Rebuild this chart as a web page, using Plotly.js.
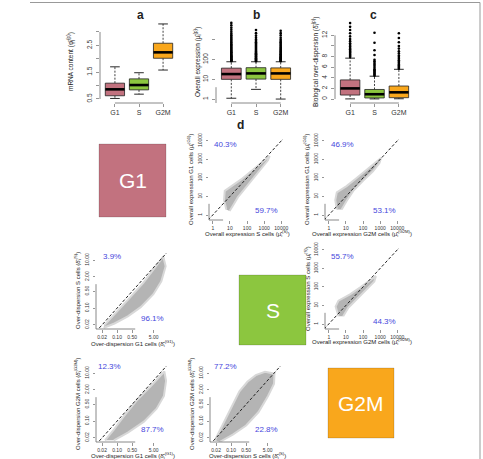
<!DOCTYPE html>
<html>
<head>
<meta charset="utf-8">
<script src="https://cdn.plot.ly/plotly-3.0.1.min.js"></script>
<style>
html,body{margin:0;padding:0;background:#fff}
#chart{width:483px;height:459px}
</style>
</head>
<body>
<div id="chart"></div>
<script>
// ---------- data ----------
const phases = ['G1', 'S', 'G2M'];
const phaseColors = ['#C2727F', '#8CC63F', '#F9A71C'];

// (a) mRNA content per phase: whisker ends, quartiles, medians
const mrnaLower = [0.52, 0.68, 1.58];
const mrnaQ1 = [0.62, 0.84, 2.02];
const mrnaMedian = [0.86, 1.02, 2.24];
const mrnaQ3 = [1.09, 1.25, 2.58];
const mrnaUpper = [1.70, 1.48, 3.30];

// (b) overall expression per phase
const exprLower = [1.1, 3.1, 1.0];
const exprQ1 = [10, 10.3, 10];
const exprMedian = [18.5, 20, 20];
const exprQ3 = [37, 39, 38];
const exprUpper = [78, 78, 78];
const exprOutG1 = [84, 88, 93, 99, 105, 112, 120, 129, 139, 150, 163, 178, 195, 214, 236, 262, 290, 325, 365, 410, 465, 530, 600, 690, 790, 910, 1060, 1250, 1450, 1750, 2100, 2600, 3300, 4200, 5600, 7300];
const exprOutS = [84, 89, 95, 101, 108, 116, 125, 135, 146, 159, 174, 190, 208, 230, 255, 283, 315, 352, 395, 445, 505, 575, 660, 760, 890, 1050, 1300, 1650, 2200, 3200];
const exprOutG2M = [84, 89, 95, 101, 108, 116, 125, 134, 145, 158, 172, 188, 206, 227, 250, 278, 310, 347, 390, 440, 500, 570, 655, 755, 880, 1050, 1300, 1700, 2200, 2900];

// (c) biological over-dispersion per phase
const dispLower = [0.02, 0.02, 0.05];
const dispQ1 = [0.75, 0.2, 0.25];
const dispMedian = [2.0, 0.9, 1.26];
const dispQ3 = [3.6, 1.8, 2.45];
const dispUpper = [7.7, 4.3, 5.6];
const dispOutG1 = [7.9, 8.1, 8.3, 8.5, 8.7, 8.9, 9.1, 9.4, 9.6, 9.9, 10.2, 10.5, 10.9, 11.3, 11.8, 12.4, 13.0, 13.6, 14.3];
const dispOutS = [4.4, 4.6, 4.8, 5.0, 5.2, 5.4, 5.6, 5.9, 6.2, 6.5, 6.8, 7.1, 7.4, 8.3, 9.2, 10.6, 12.5];
const dispOutG2M = [5.7, 5.9, 6.1, 6.3, 6.5, 6.8, 7.0, 7.3, 7.6, 7.9, 8.2, 8.6, 9.0, 9.5, 10.0, 10.7, 11.5, 12.4];

// (d) outlines of the gene clouds, log10 units (x, y)
const cloudG1vsS_x = [0.79, 0.66, 0.70, 1.08, 1.66, 2.24, 2.72, 3.15, 3.32, 3.22, 2.78, 2.30, 1.85, 1.46, 1.17, 0.98];
const cloudG1vsS_y = [0.30, 0.81, 1.30, 1.55, 1.92, 2.36, 2.72, 3.08, 3.18, 2.95, 2.45, 1.92, 1.40, 0.95, 0.50, 0.22];
const cloudG1vsG2M_x = [0.47, 0.38, 0.47, 1.04, 1.63, 2.22, 2.78, 3.05, 2.96, 2.58, 2.00, 1.43, 1.04, 0.75];
const cloudG1vsG2M_y = [0.30, 0.81, 1.22, 1.56, 2.00, 2.45, 2.90, 3.08, 2.80, 2.36, 1.84, 1.30, 0.76, 0.30];
const cloudSvsG2M_x = [0.57, 0.40, 0.57, 1.24, 1.82, 2.40, 2.75, 2.66, 2.20, 1.63, 1.14, 0.84];
const cloudSvsG2M_y = [0.42, 0.94, 1.26, 1.60, 1.96, 2.32, 2.58, 2.30, 1.86, 1.33, 0.88, 0.42];
const cloudSvsG1disp_x = [-1.60, -1.02, -0.40, 0.22, 0.77, 1.15, 1.26, 1.06, 0.69, 0.10, -0.50, -1.12, -1.62];
const cloudSvsG1disp_y = [-1.72, -1.18, -0.56, 0.05, 0.68, 1.15, 0.75, 0.12, -0.42, -0.96, -1.34, -1.64, -1.82];
const cloudG2MvsG1disp_x = [-1.56, -1.17, -0.71, -0.09, 0.53, 1.00, 1.20, 1.28, 1.18, 0.84, 0.25, -0.50, -1.15];
const cloudG2MvsG1disp_y = [-1.80, -1.38, -0.82, -0.14, 0.42, 0.88, 1.07, 0.68, 0.05, -0.48, -1.02, -1.48, -1.80];
const cloudG2MvsSdisp_x = [-1.75, -1.52, -1.22, -0.92, -0.61, -0.24, 0.15, 0.58, 1.02, 1.00, 0.72, 0.28, -0.30, -0.92, -1.52];
const cloudG2MvsSdisp_y = [-1.80, -1.38, -0.82, -0.28, 0.24, 0.64, 0.92, 1.06, 0.98, 0.56, 0.05, -0.62, -1.18, -1.56, -1.86];

// share of genes above / below the diagonal
const pctG1vsS = ['40.3%', '59.7%'];
const pctG1vsG2M = ['46.9%', '53.1%'];
const pctSvsG2M = ['55.7%', '44.3%'];
const pctSvsG1disp = ['3.9%', '96.1%'];
const pctG2MvsG1disp = ['12.3%', '87.7%'];
const pctG2MvsSdisp = ['77.2%', '22.8%'];

// tick labels
const exprTicks = [1, 10, 100, 1000, 10000];
const exprTickText = ['1', '10', '100', '1000', '10000'];
const dispXTicks = [0.02, 0.10, 0.50, 5.00];
const dispXTickText = ['0.02', '0.10', '0.50', '5.00'];
const dispYTicks = [0.02, 0.10, 0.50, 2.00, 10.00];
const dispYTickText = ['0.02', '0.10', '0.50', '2.00', '10.00'];

// ---------- layout helpers ----------
const W = 483, H = 459;
const FONT = '"Liberation Sans", Arial, sans-serif';
const AXIS_COL = '#6a6a6a';
const BLUE = '#4646DC';
const px = p => p / W;
const py = p => 1 - p / H;

const traces = [];
const shapes = [];
const annotations = [];
const layout = {
  width: W, height: H,
  margin: {l: 0, r: 0, t: 0, b: 0},
  paper_bgcolor: '#fff', plot_bgcolor: 'rgba(0,0,0,0)',
  showlegend: false,
  font: {family: FONT, color: '#222'}
};

function axis(extra) {
  return Object.assign({
    showgrid: false, zeroline: false, showline: false,
    ticks: 'outside', ticklen: 3, tickwidth: 0.7, tickcolor: AXIS_COL,
    tickfont: {family: FONT, size: 7, color: '#333'},
    tickmode: 'array', fixedrange: true
  }, extra);
}

// R style axis line spanning first to last tick
function axisLine(n, dir, a, b, isLog) {
  const t = v => isLog ? Math.log10(v) : v;
  const xs = n === 1 ? 'x' : 'x' + n, ys = n === 1 ? 'y' : 'y' + n;
  if (dir === 'x') {
    shapes.push({type: 'line', xref: xs, yref: ys + ' domain', x0: t(a), x1: t(b), y0: 0, y1: 0,
      line: {color: AXIS_COL, width: 0.8}});
  } else {
    shapes.push({type: 'line', xref: xs + ' domain', yref: ys, x0: 0, x1: 0, y0: t(a), y1: t(b),
      line: {color: AXIS_COL, width: 0.8}});
  }
}

function label(text, x, y, size, opts) {
  annotations.push(Object.assign({
    text: text, xref: 'paper', yref: 'paper', x: px(x), y: py(y),
    xanchor: 'center', yanchor: 'middle', showarrow: false,
    font: {family: FONT, size: size, color: '#222'}
  }, opts || {}));
}

// ---------- box plot panels (a, b, c) ----------
function boxPanel(n, box, yAxisExtra, lower, q1, med, q3, upper, outliers) {
  const xs = n === 1 ? 'x' : 'x' + n, ys = n === 1 ? 'y' : 'y' + n;
  const key = n === 1 ? '' : n;
  layout['xaxis' + key] = axis({
    domain: [px(box.L), px(box.R)], range: [0.38, 3.62], anchor: ys,
    tickvals: [1, 2, 3], ticktext: phases
  });
  layout['yaxis' + key] = axis(Object.assign({
    domain: [py(box.B), py(box.T)], anchor: xs, tickangle: -90, ticklabelstandoff: 1,
    tickfont: {family: FONT, size: 6.5, color: '#333'}
  }, yAxisExtra));
  const hw = 0.4;
  phases.forEach((p, i) => {
    const c = i + 1;
    // whiskers (dashed) and staples
    traces.push({type: 'scatter', mode: 'lines', xaxis: xs, yaxis: ys, hoverinfo: 'skip',
      x: [c, c, null, c, c], y: [q3[i], upper[i], null, q1[i], lower[i]],
      line: {color: '#111', width: 0.8, dash: '2px,1.5px'}});
    traces.push({type: 'scatter', mode: 'lines', xaxis: xs, yaxis: ys, hoverinfo: 'skip',
      x: [c - hw / 2, c + hw / 2, null, c - hw / 2, c + hw / 2], y: [upper[i], upper[i], null, lower[i], lower[i]],
      line: {color: '#111', width: 0.9}});
    // box
    traces.push({type: 'scatter', mode: 'lines', xaxis: xs, yaxis: ys, hoverinfo: 'skip',
      x: [c - hw, c + hw, c + hw, c - hw, c - hw], y: [q1[i], q1[i], q3[i], q3[i], q1[i]],
      fill: 'toself', fillcolor: phaseColors[i], line: {color: '#222', width: 0.8}});
    // median
    traces.push({type: 'scatter', mode: 'lines', xaxis: xs, yaxis: ys, hoverinfo: 'skip',
      x: [c - hw, c + hw], y: [med[i], med[i]], line: {color: '#000', width: 2.6}});
    // outliers
    if (outliers && outliers[i] && outliers[i].length) {
      traces.push({type: 'scatter', mode: 'markers', xaxis: xs, yaxis: ys, hoverinfo: 'skip',
        x: outliers[i].map(() => c), y: outliers[i],
        marker: {symbol: 'circle', size: 2.6, color: '#000'}});
    }
  });
  axisLine(n, 'x', 1, 3, false);
}

const boxA = {L: 100, R: 178, T: 21, B: 103};
const boxB = {L: 216, R: 296, T: 21, B: 103};
const boxC = {L: 335, R: 414, T: 21, B: 103};

boxPanel(1, boxA, {range: [0.35, 3.41], tickvals: [0.5, 1, 1.5, 2, 2.5, 3], ticktext: ['0.5', '', '1.5', '', '2.5', '']},
  mrnaLower, mrnaQ1, mrnaMedian, mrnaQ3, mrnaUpper, null);
axisLine(1, 'y', 0.5, 3, false);

boxPanel(2, boxB, {type: 'log', range: [-0.2, 3.96], tickvals: [1, 10, 100, 1000, 10000], ticktext: ['1', '10', '100', '', '10000']},
  exprLower, exprQ1, exprMedian, exprQ3, exprUpper, [exprOutG1, exprOutS, exprOutG2M]);
axisLine(2, 'y', 1, 10000, true);

boxPanel(3, boxC, {range: [-0.75, 14.7], tickvals: [0, 2, 4, 6, 8, 10, 12], ticktext: ['0', '2', '4', '6', '8', '', '12']},
  dispLower, dispQ1, dispMedian, dispQ3, dispUpper, [dispOutG1, dispOutS, dispOutG2M]);
axisLine(3, 'y', 0, 12, false);

label('<b>a</b>', 140, 15, 12);
label('<b>b</b>', 256, 15, 12);
label('<b>c</b>', 373, 15, 12);
label('mRNA content (φ̂<sub>j</sub><sup>(p)</sup>)', 70, 62, 6.5, {textangle: -90});
label('Overall expression (μ̂<sub>i</sub><sup>(p)</sup>)', 197, 62, 6.5, {textangle: -90});
label('Biological over-dispersion (δ̂<sub>i</sub><sup>(p)</sup>)', 315, 62, 6.5, {textangle: -90});

// ---------- pairwise scatter panels (d) ----------
const EXPR_XR = [-0.22, 4.1], EXPR_YR = [-0.27, 4.1];
const DISP_XR = [-1.98, 1.37], DISP_YR = [-1.87, 1.30];

function pairPanel(n, box, kind, cx, cy, pct, pctPos) {
  const xs = 'x' + n, ys = 'y' + n;
  const expr = kind === 'expr';
  const xr = expr ? EXPR_XR : DISP_XR, yr = expr ? EXPR_YR : DISP_YR;
  layout['xaxis' + n] = axis({
    type: 'log', domain: [px(box.L), px(box.R)], range: xr, anchor: ys,
    tickvals: expr ? exprTicks : dispXTicks, ticktext: expr ? exprTickText : dispXTickText,
    tickfont: {family: FONT, size: 5, color: '#333'}, ticklen: 2.5
  });
  layout['yaxis' + n] = axis({
    type: 'log', domain: [py(box.B), py(box.T)], range: yr, anchor: xs,
    tickvals: expr ? exprTicks : dispYTicks, ticktext: expr ? exprTickText : dispYTickText,
    tickfont: {family: FONT, size: 5, color: '#333'}, ticklen: 2.5, tickangle: -90, ticklabelstandoff: 2
  });
  // gene cloud: soft halo around the dense body
  traces.push({type: 'scatter', mode: 'lines', xaxis: xs, yaxis: ys, hoverinfo: 'skip',
    x: cx.map(v => Math.pow(10, v)), y: cy.map(v => Math.pow(10, v)),
    fill: 'toself', fillcolor: '#b4b4b4', line: {color: '#d8d8d8', width: 2}});
  // identity line
  const lo = Math.pow(10, Math.min(xr[0], yr[0])), hi = Math.pow(10, Math.max(xr[1], yr[1]));
  traces.push({type: 'scatter', mode: 'lines', xaxis: xs, yaxis: ys, hoverinfo: 'skip',
    x: [lo, hi], y: [lo, hi], line: {color: '#222', width: 1, dash: '3px,2px'}});
  // axis lines
  const xt = expr ? exprTicks : dispXTicks, yt = expr ? exprTicks : dispYTicks;
  axisLine(n, 'x', xt[0], xt[xt.length - 1], true);
  axisLine(n, 'y', yt[0], yt[yt.length - 1], true);
  // percentages above / below the diagonal
  pct.forEach((t, i) => {
    annotations.push({text: t, xref: xs + ' domain', yref: ys + ' domain',
      x: pctPos[i][0], y: pctPos[i][1], xanchor: 'center', yanchor: 'middle', showarrow: false,
      font: {family: FONT, size: 8, color: BLUE}});
  });
}

const pG1vsS = {L: 209, R: 283, T: 139, B: 220};
const pG1vsG2M = {L: 325, R: 399, T: 139, B: 220};
const pSvsG2M = {L: 325, R: 399, T: 248, B: 329};
const pSvsG1 = {L: 96, R: 168, T: 253, B: 329};
const pG2MvsG1 = {L: 96, R: 168, T: 366, B: 442};
const pG2MvsS = {L: 210, R: 282, T: 366, B: 442};

pairPanel(4, pG1vsS, 'expr', cloudG1vsS_x, cloudG1vsS_y, pctG1vsS, [[0.22, 0.93], [0.78, 0.12]]);
pairPanel(5, pG1vsG2M, 'expr', cloudG1vsG2M_x, cloudG1vsG2M_y, pctG1vsG2M, [[0.23, 0.93], [0.81, 0.12]]);
pairPanel(6, pSvsG2M, 'expr', cloudSvsG2M_x, cloudSvsG2M_y, pctSvsG2M, [[0.23, 0.90], [0.81, 0.09]]);
pairPanel(7, pSvsG1, 'disp', cloudSvsG1disp_x, cloudSvsG1disp_y, pctSvsG1disp, [[0.22, 0.96], [0.79, 0.14]]);
pairPanel(8, pG2MvsG1, 'disp', cloudG2MvsG1disp_x, cloudG2MvsG1disp_y, pctG2MvsG1disp, [[0.19, 0.99], [0.79, 0.17]]);
pairPanel(9, pG2MvsS, 'disp', cloudG2MvsSdisp_x, cloudG2MvsSdisp_y, pctG2MvsSdisp, [[0.21, 0.99], [0.79, 0.17]]);

label('<b>d</b>', 240, 125, 12);
// axis titles of the pairwise panels
const T = 6;
label('Overall expression S cells (μ̂<sub>i</sub><sup>(S)</sup>)', 247, 233, T);
label('Overall expression G1 cells (μ̂<sub>i</sub><sup>(G1)</sup>)', 191, 180, T, {textangle: -90});
label('Overall expression G2M cells (μ̂<sub>i</sub><sup>(G2M)</sup>)', 362, 233, T);
label('Overall expression G1 cells (μ̂<sub>i</sub><sup>(G1)</sup>)', 307, 180, T, {textangle: -90});
label('Overall expression G2M cells (μ̂<sub>i</sub><sup>(G2M)</sup>)', 362, 341, T);
label('Overall expression S cells (μ̂<sub>i</sub><sup>(S)</sup>)', 307, 289, T, {textangle: -90});
label('Over-dispersion G1 cells (δ̂<sub>i</sub><sup>(G1)</sup>)', 133, 343, T);
label('Over-dispersion S cells (δ̂<sub>i</sub><sup>(S)</sup>)', 77, 291, T, {textangle: -90});
label('Over-dispersion G1 cells (δ̂<sub>i</sub><sup>(G1)</sup>)', 133, 455, T);
label('Over-dispersion G2M cells (δ̂<sub>i</sub><sup>(G2M)</sup>)', 77, 404, T, {textangle: -90});
label('Over-dispersion S cells (δ̂<sub>i</sub><sup>(S)</sup>)', 247, 455, T);
label('Over-dispersion G2M cells (δ̂<sub>i</sub><sup>(G2M)</sup>)', 191, 404, T, {textangle: -90});

// ---------- phase tiles on the diagonal ----------
const tiles = [
  {L: 99, T: 144, R: 166, B: 217},
  {L: 239, T: 275, R: 306, B: 345},
  {L: 328, T: 368, R: 394, B: 438}
];
tiles.forEach((t, i) => {
  shapes.push({type: 'rect', xref: 'paper', yref: 'paper', x0: px(t.L), x1: px(t.R), y0: py(t.B), y1: py(t.T),
    fillcolor: phaseColors[i], line: {width: 0.6, color: 'rgba(0,0,0,0.25)'}, layer: 'below'});
  label(phases[i], (t.L + t.R) / 2, (t.T + t.B) / 2, 21, {font: {family: FONT, size: 21, color: '#fff'}});
});

// frame of the figure
shapes.push({type: 'line', xref: 'paper', yref: 'paper', x0: px(30), x1: px(480), y0: py(2.5), y1: py(2.5), line: {color: '#999', width: 1}});
shapes.push({type: 'line', xref: 'paper', yref: 'paper', x0: px(480), x1: px(480), y0: py(2.5), y1: 0, line: {color: '#999', width: 1}});

layout.shapes = shapes;
layout.annotations = annotations;

Plotly.newPlot('chart', traces, layout, {staticPlot: true, displayModeBar: false});
</script>
</body>
</html>
